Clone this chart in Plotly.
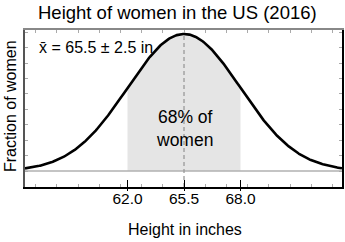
import numpy as np
import plotly.graph_objects as go

# ---- data ----
MEAN = 65.5
SD = 2.5
SHADE_LO = 63.0
SHADE_HI = 68.0
TICK_VALS = [63.0, 65.5, 68.0]
TICK_TEXT = ["62.0", "65.5", "68.0"]
MINOR_STEP = 0.938
X_RANGE = [58.465, 72.49]
Y_RANGE = [-0.01864, 0.16424]
Y_DTICK = 0.01794

TITLE = "Height of women in the US (2016)"
X_TITLE = "Height in inches"
Y_TITLE = "Fraction of women"
STAT_TEXT = "x\u0304 = 65.5 \u00b1 2.5 in"
SHADE_TEXT = "68% of<br>women"

FONT = "Liberation Sans, Arial, sans-serif"

def pdf(x):
    return np.exp(-0.5 * ((x - MEAN) / SD) ** 2) / (SD * np.sqrt(2 * np.pi))

xs = np.linspace(X_RANGE[0], X_RANGE[1], 400)
xs_fill = np.linspace(SHADE_LO, SHADE_HI, 200)
minor_vals = [MEAN + k * MINOR_STEP for k in range(-8, 9)]

fig = go.Figure()
# shaded 68% area
fig.add_trace(go.Scatter(x=xs_fill, y=pdf(xs_fill), fill="tozeroy", mode="none",
                         fillcolor="#e5e5e5", hoverinfo="skip", showlegend=False))
# baseline
fig.add_trace(go.Scatter(x=X_RANGE, y=[0, 0], mode="lines",
                         line=dict(color="#b0b0b0", width=1.6), showlegend=False))
# mean dashed line
fig.add_trace(go.Scatter(x=[MEAN, MEAN], y=[Y_RANGE[0], pdf(MEAN)], mode="lines",
                         line=dict(color="#999999", width=1.3, dash="4px,3px"), showlegend=False))
# curve
fig.add_trace(go.Scatter(x=xs, y=pdf(xs), mode="lines",
                         line=dict(color="black", width=2.6), showlegend=False))
# helper traces for extra axes
fig.add_trace(go.Scatter(x=[MEAN], y=[0], mode="markers", marker=dict(opacity=0),
                         xaxis="x2", showlegend=False, hoverinfo="skip"))
fig.add_trace(go.Scatter(x=[MEAN], y=[0], mode="markers", marker=dict(opacity=0),
                         xaxis="x3", showlegend=False, hoverinfo="skip"))
fig.add_trace(go.Scatter(x=[MEAN], y=[0], mode="markers", marker=dict(opacity=0),
                         yaxis="y2", showlegend=False, hoverinfo="skip"))

fig.update_layout(
    width=345, height=242,
    margin=dict(l=25, r=3, t=30, b=55),
    paper_bgcolor="white", plot_bgcolor="white",
    font=dict(family=FONT, color="black"),
    xaxis=dict(range=X_RANGE, showgrid=False, zeroline=False,
               showline=True, linecolor="black", linewidth=1.5,
               tickmode="array", tickvals=TICK_VALS, ticktext=TICK_TEXT,
               ticks="inside", ticklen=7, tickwidth=1.2, tickcolor="black",
               tickfont=dict(size=15.5, family=FONT), ticklabelstandoff=-3,
               minor=dict(tickmode="array", tickvals=minor_vals, ticks="inside",
                          ticklen=3, tickcolor="#aaaaaa", tickwidth=1)),
    xaxis2=dict(range=X_RANGE, overlaying="x", anchor="y", side="bottom",
                showgrid=False, zeroline=False, showline=False,
                tickmode="array", tickvals=TICK_VALS, ticks="outside",
                ticklen=3, tickwidth=1.2, tickcolor="black", showticklabels=False),
    xaxis3=dict(range=X_RANGE, overlaying="x", anchor="y", side="top",
                showgrid=False, zeroline=False, showline=True,
                linecolor="#888888", linewidth=2,
                tickmode="array", tickvals=minor_vals, ticks="inside",
                ticklen=3, tickwidth=1, tickcolor="#aaaaaa", showticklabels=False),
    yaxis=dict(range=Y_RANGE, showgrid=False, zeroline=False,
               showline=True, linecolor="#555555", linewidth=1.5,
               tick0=0, dtick=Y_DTICK, ticks="inside", ticklen=3,
               tickcolor="#aaaaaa", tickwidth=1, showticklabels=False),
    yaxis2=dict(range=Y_RANGE, overlaying="y", anchor="x", side="right",
                showgrid=False, zeroline=False,
                showline=True, linecolor="black", linewidth=1.5,
                tick0=0, dtick=Y_DTICK, ticks="inside", ticklen=3,
                tickcolor="#aaaaaa", tickwidth=1, showticklabels=False),
    showlegend=False,
)

annotations = [
    dict(text=TITLE, xref="paper", yref="paper", x=(177.5 - 25) / 317, y=1 + (30 - 12) / 157,
         xanchor="center", yanchor="middle", showarrow=False, font=dict(size=18.5, family=FONT)),
    dict(text=X_TITLE, xref="paper", yref="paper", x=(185 - 25) / 317, y=-(229 - 187) / 157,
         xanchor="center", yanchor="middle", showarrow=False, font=dict(size=16, family=FONT)),
    dict(text=Y_TITLE, xref="paper", yref="paper", x=-(25 - 10) / 317, y=(187 - 106) / 157,
         xanchor="center", yanchor="middle", textangle=-90, showarrow=False,
         font=dict(size=16, family=FONT)),
    dict(text=STAT_TEXT, xref="paper", yref="paper", x=(37 - 25) / 317, y=(187 - 47) / 157,
         xanchor="left", yanchor="middle", showarrow=False, font=dict(size=16, family=FONT)),
    dict(text=SHADE_TEXT, xref="x", yref="paper", x=MEAN, y=(187 - 128.5) / 157,
         xanchor="center", yanchor="middle", showarrow=False, font=dict(size=17.5, family=FONT)),
]
fig.update_layout(annotations=annotations)

fig.write_html("out.html")
